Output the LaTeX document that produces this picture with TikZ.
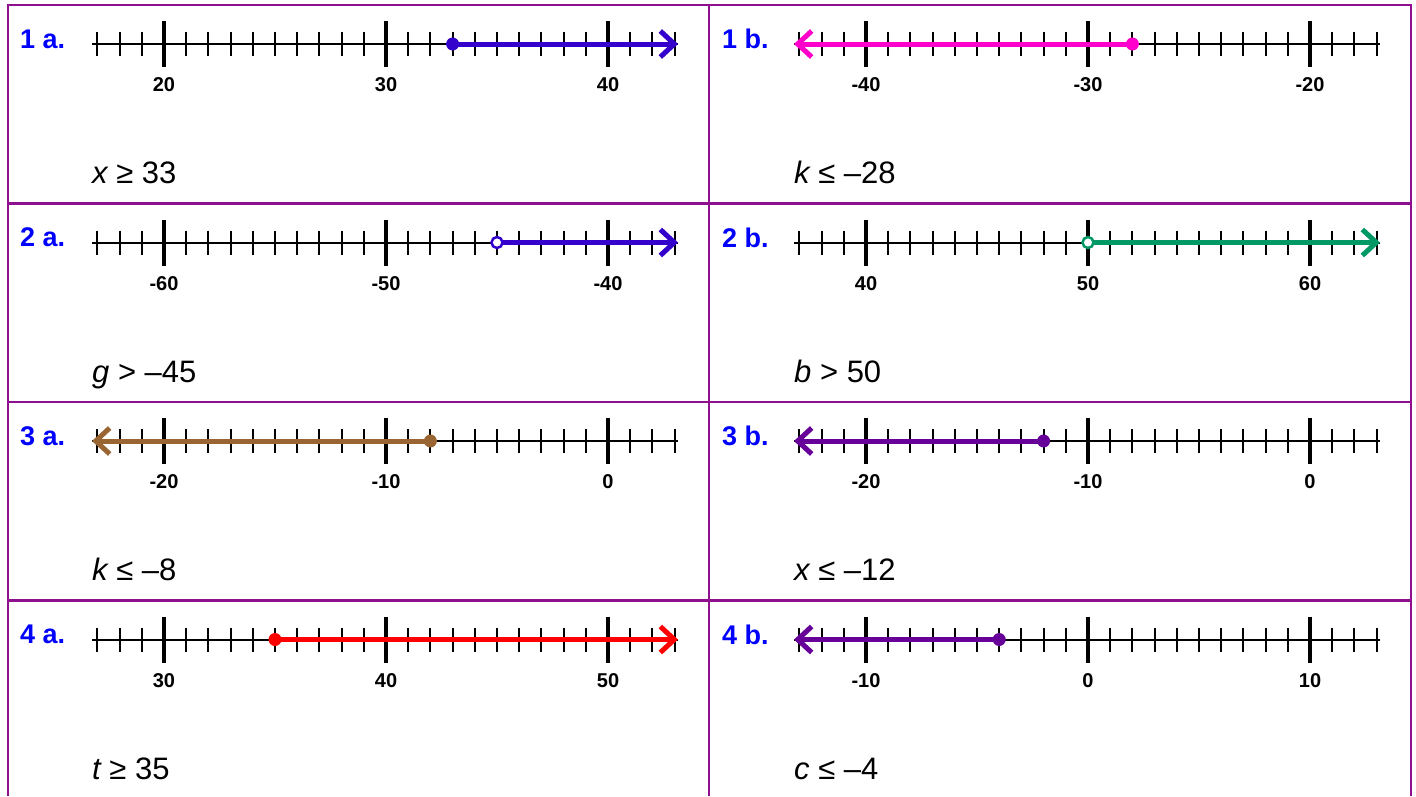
\documentclass[tikz,border=0pt]{standalone}
\usepackage{fontspec}
\setmainfont{Liberation Sans}
\usetikzlibrary{arrows.meta}
\definecolor{gridpurple}{HTML}{8E108E}
\definecolor{raybl}{HTML}{3300CC}
\definecolor{raymag}{HTML}{FF00CC}
\definecolor{raygreen}{HTML}{009966}
\definecolor{raybrown}{HTML}{996633}
\definecolor{raypurple}{HTML}{660099}
\definecolor{rayred}{HTML}{FF0000}
\definecolor{labblue}{HTML}{0000FF}
\tikzset{
  gridline/.style={draw=gridpurple, line width=2.5pt},
  axisline/.style={draw=black, line width=2pt},
  minortick/.style={draw=black, line width=2pt},
  majortick/.style={draw=black, line width=4pt},
  ray/.style={draw=#1, line width=5pt, -{Straight Barb[length=14pt,width=26pt]}},
  ticklab/.style={font=\fontsize{20}{22}\selectfont\bfseries, inner sep=0pt},
  cellname/.style={font=\fontsize{27}{29}\selectfont\bfseries, text=labblue, inner sep=0pt, anchor=west},
  ineq/.style={font=\fontsize{31}{34}\selectfont, inner sep=0pt, anchor=base west},
  closeddot/.style={circle, fill=#1, inner sep=0pt, minimum size=13pt},
  opendot/.style={circle, draw=#1, line width=2.5pt, fill=white, inner sep=0pt, minimum size=11pt}
}
\begin{document}
\begin{tikzpicture}[x=1pt,y=-1pt]
\useasboundingbox (0,0) rectangle (1416,796);
% grid
\draw[gridline] (8,796) -- (8,5) -- (1411,5) -- (1411,796);
\draw[gridline] (709,5) -- (709,796);
\foreach \gy in {203.5,402,600.5}{
  \draw[gridline] (8,\gy) -- (1411,\gy);
}
% cells
\foreach \n/\xo/\yy/\lab/\ma/\mb/\mc/\txt/\col/\di/\dir/\op in {
 1/0/44/{1 a.}/20/30/40/{{\itshape x} ≥ 33}/raybl/16/r/c,
 2/702/44/{1 b.}/-40/-30/-20/{{\itshape k} ≤ –28}/raymag/15/l/c,
 3/0/242.5/{2 a.}/-60/-50/-40/{{\itshape g} > –45}/raybl/18/r/o,
 4/702/242.5/{2 b.}/40/50/60/{{\itshape b} > 50}/raygreen/13/r/o,
 5/0/441/{3 a.}/-20/-10/0/{{\itshape k} ≤ –8}/raybrown/15/l/c,
 6/702/441/{3 b.}/-20/-10/0/{{\itshape x} ≤ –12}/raypurple/11/l/c,
 7/0/639.5/{4 a.}/30/40/50/{{\itshape t} ≥ 35}/rayred/8/r/c,
 8/702/639.5/{4 b.}/-10/0/10/{{\itshape c} ≤ –4}/raypurple/9/l/c}{
  \node[cellname] (name\n) at (\xo+20,\yy-5) {\lab};
  \coordinate (L\n) at (\xo+92,\yy);
  \coordinate (R\n) at (\xo+678,\yy);
  \draw[axisline] (L\n) -- (R\n);
  \foreach \i in {0,...,26}{
    \draw[minortick] (\xo+97.4+\i*22.2,\yy-12) -- (\xo+97.4+\i*22.2,\yy+12);
  }
  \foreach \k/\v in {0/\ma,1/\mb,2/\mc}{
    \draw[majortick] (\xo+164+\k*222,\yy-23) -- (\xo+164+\k*222,\yy+23);
    \node[ticklab] (tl\n\k) at (\xo+164+\k*222,\yy+41) {\v};
  }
  \coordinate (d\n) at (\xo+97.4+\di*22.2,\yy);
  \if\dir r
    \draw[ray=\col] (d\n) -- (R\n);
  \else
    \draw[ray=\col] (d\n) -- (L\n);
  \fi
  \if\op c
    \node[closeddot=\col] (dot\n) at (d\n) {};
  \else
    \node[opendot=\col] (dot\n) at (d\n) {};
  \fi
  \node[ineq] (ineq\n) at (\xo+92,\yy+139.5) {\txt};
}
\end{tikzpicture}
\end{document}
